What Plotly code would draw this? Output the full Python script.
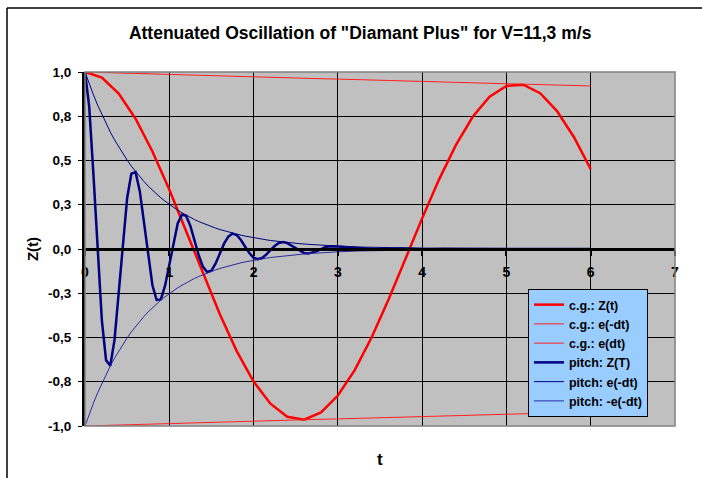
import plotly.graph_objects as go

# ---- data ----
t_cg = [0.0, 0.2, 0.4, 0.6, 0.8, 1.0, 1.2, 1.4, 1.6, 1.8, 2.0, 2.2, 2.4, 2.6, 2.8, 3.0,
        3.2, 3.4, 3.6, 3.8, 4.0, 4.2, 4.4, 4.6, 4.8, 5.0, 5.2, 5.4, 5.6, 5.8, 6.0]
cg_z = [1.000, 0.968, 0.878, 0.736, 0.551, 0.336, 0.100, -0.140, -0.369, -0.577, -0.749,
        -0.874, -0.948, -0.964, -0.923, -0.828, -0.684, -0.500, -0.287, -0.058, 0.173,
        0.392, 0.587, 0.747, 0.860, 0.921, 0.928, 0.880, 0.779, 0.633, 0.451]
cg_env_pos = [1.000, 0.997, 0.995, 0.992, 0.989, 0.986, 0.984, 0.981, 0.978, 0.976, 0.973,
              0.970, 0.968, 0.965, 0.962, 0.960, 0.957, 0.955, 0.952, 0.949, 0.947,
              0.944, 0.942, 0.939, 0.936, 0.934, 0.931, 0.929, 0.926, 0.924, 0.921]
cg_env_neg = [-1.000, -0.997, -0.995, -0.992, -0.989, -0.986, -0.984, -0.981, -0.978, -0.976, -0.973,
              -0.970, -0.968, -0.965, -0.962, -0.960, -0.957, -0.955, -0.952, -0.949, -0.947,
              -0.944, -0.942, -0.939, -0.936, -0.934, -0.931, -0.929, -0.926, -0.924, -0.921]

t_pitch = [0.0, 0.05, 0.1, 0.15, 0.2, 0.25, 0.3, 0.35, 0.4, 0.45, 0.5, 0.55, 0.6, 0.65, 0.7,
           0.75, 0.8, 0.85, 0.9, 0.95, 1.0, 1.05, 1.1, 1.15, 1.2, 1.25, 1.3, 1.35, 1.4, 1.45,
           1.5, 1.55, 1.6, 1.65, 1.7, 1.75, 1.8, 1.85, 1.9, 1.95, 2.0, 2.05, 2.1, 2.15, 2.2,
           2.25, 2.3, 2.35, 2.4, 2.45, 2.5, 2.55, 2.6, 2.65, 2.7, 2.75, 2.8, 2.85, 2.9, 2.95,
           3.0, 3.25, 3.5, 3.75, 4.0, 4.25, 4.5, 4.75, 5.0, 5.25, 5.5, 5.75, 6.0]
pitch_z = [1.000, 0.804, 0.422, -0.022, -0.403, -0.628, -0.660, -0.514, -0.252, 0.043, 0.288,
           0.426, 0.434, 0.327, 0.148, -0.047, -0.205, -0.288, -0.285, -0.207, -0.086,
           0.044, 0.144, 0.194, 0.187, 0.131, 0.048, -0.037, -0.101, -0.130, -0.122,
           -0.082, -0.026, 0.030, 0.070, 0.087, 0.079, 0.051, 0.013, -0.023, -0.049,
           -0.058, -0.051, -0.032, -0.006, 0.017, 0.034, 0.039, 0.033, 0.019, 0.002,
           -0.013, -0.023, -0.026, -0.021, -0.012, -0.001, 0.010, 0.016, 0.017, 0.014,
           0.005, -0.004, 0.003, -0.002, 0.001, 0.000, 0.000, 0.000, 0.000, 0.000, 0.000, 0.000]
pitch_env_pos = [1.000, 0.933, 0.871, 0.813, 0.759, 0.708, 0.661, 0.617, 0.576, 0.537, 0.502,
                 0.468, 0.437, 0.408, 0.381, 0.355, 0.332, 0.309, 0.289, 0.270, 0.252,
                 0.235, 0.219, 0.205, 0.191, 0.178, 0.166, 0.155, 0.145, 0.135, 0.126,
                 0.118, 0.110, 0.103, 0.096, 0.089, 0.083, 0.078, 0.073, 0.068, 0.063,
                 0.059, 0.055, 0.052, 0.048, 0.045, 0.042, 0.039, 0.036, 0.034, 0.032,
                 0.030, 0.028, 0.026, 0.024, 0.023, 0.021, 0.020, 0.018, 0.017, 0.016,
                 0.011, 0.008, 0.006, 0.004, 0.003, 0.002, 0.001, 0.001, 0.001, 0.000, 0.000, 0.000]
pitch_env_neg = [-1.000, -0.933, -0.871, -0.813, -0.759, -0.708, -0.661, -0.617, -0.576, -0.537, -0.502,
                 -0.468, -0.437, -0.408, -0.381, -0.355, -0.332, -0.309, -0.289, -0.270, -0.252,
                 -0.235, -0.219, -0.205, -0.191, -0.178, -0.166, -0.155, -0.145, -0.135, -0.126,
                 -0.118, -0.110, -0.103, -0.096, -0.089, -0.083, -0.078, -0.073, -0.068, -0.063,
                 -0.059, -0.055, -0.052, -0.048, -0.045, -0.042, -0.039, -0.036, -0.034, -0.032,
                 -0.030, -0.028, -0.026, -0.024, -0.023, -0.021, -0.020, -0.018, -0.017, -0.016,
                 -0.011, -0.008, -0.006, -0.004, -0.003, -0.002, -0.001, -0.001, -0.001, 0.000, 0.000, 0.000]

y_tickvals = [1.0, 0.75, 0.5, 0.25, 0.0, -0.25, -0.5, -0.75, -1.0]
y_ticktext = ["1,0", "0,8", "0,5", "0,3", "0,0", "-0,3", "-0,5", "-0,8", "-1,0"]
x_tickvals = [0, 1, 2, 3, 4, 5, 6, 7]

FONT = "Liberation Sans"

fig = go.Figure()
fig.add_trace(go.Scatter(x=t_cg, y=cg_z, mode="lines", name="c.g.: Z(t)",
                         line=dict(color="#FF0000", width=2.5)))
fig.add_trace(go.Scatter(x=t_cg, y=cg_env_pos, mode="lines", name="c.g.: e(-dt)",
                         line=dict(color="#FF2020", width=1)))
fig.add_trace(go.Scatter(x=t_cg, y=cg_env_neg, mode="lines", name="c.g.: e(dt)",
                         line=dict(color="#FF2020", width=1)))
fig.add_trace(go.Scatter(x=t_pitch, y=pitch_z, mode="lines", name="pitch: Z(T)",
                         line=dict(color="#000080", width=2.5)))
fig.add_trace(go.Scatter(x=t_pitch, y=pitch_env_pos, mode="lines", name="pitch: e(-dt)",
                         line=dict(color="#000080", width=1)))
fig.add_trace(go.Scatter(x=t_pitch, y=pitch_env_neg, mode="lines", name="pitch: -e(-dt)",
                         line=dict(color="#2A2AA0", width=1)))

fig.update_layout(
    width=702, height=478,
    margin=dict(l=85, r=27, t=72, b=52),
    paper_bgcolor="white",
    plot_bgcolor="#C0C0C0",
    font=dict(family=FONT, color="black", size=13),
    title=dict(text="Attenuated Oscillation of \"Diamant Plus\" for V=11,3 m/s",
               x=0.513, xanchor="center", y=0.931, yanchor="middle", xref="container", yref="container",
               font=dict(family=FONT, size=17.5, weight="bold", color="black")),
    showlegend=True,
    legend=dict(x=0.7508, y=0.387, xanchor="left", yanchor="top",
                bgcolor="#99CCFF", bordercolor="black", borderwidth=1,
                font=dict(family=FONT, size=12.5, weight="bold", color="black"),
                itemwidth=30, tracegroupgap=0),
    xaxis=dict(range=[0, 7], tickvals=x_tickvals, showgrid=True, gridcolor="black", gridwidth=1,
               zeroline=False, showline=True, linecolor="black", linewidth=3,
               anchor="free", position=0.5, ticks="outside", ticklen=5, tickwidth=2, tickcolor="black",
               ticklabelstandoff=4,
               tickfont=dict(family=FONT, size=14, weight="bold", color="black")),
    yaxis=dict(range=[-1, 1], tickvals=y_tickvals, ticktext=y_ticktext, showgrid=True,
               gridcolor="black", gridwidth=1, zeroline=True, zerolinecolor="black", zerolinewidth=3,
               showline=True, linecolor="black", linewidth=3, ticks="outside", ticklen=4,
               tickcolor="black", tickwidth=1, ticklabelstandoff=4,
               tickfont=dict(family=FONT, size=13.5, weight="bold", color="black"),
               title=dict(text="Z(t)", standoff=6,
                          font=dict(family=FONT, size=15, weight="bold", color="black"))),
)

# plot area border
fig.add_shape(type="rect", xref="paper", yref="paper", x0=0, x1=1, y0=0, y1=1,
              line=dict(color="#808080", width=1.5), layer="above")
# outer chart frame (left + top edges)
fig.add_shape(type="line", xref="paper", yref="paper", x0=-0.1322, x1=-0.1322, y0=-0.2, y1=1.1808,
              line=dict(color="black", width=1.5))
fig.add_shape(type="line", xref="paper", yref="paper", x0=-0.1322, x1=1.1, y0=1.1808, y1=1.1808,
              line=dict(color="black", width=1.5))

# x axis title
fig.add_annotation(text="t", xref="paper", yref="paper", x=0.5, y=-0.094, xanchor="center",
                   yanchor="middle", showarrow=False,
                   font=dict(family=FONT, size=17, weight="bold", color="black"))

fig.write_html("out.html", config={"displayModeBar": False},
               post_script="document.body.style.margin='0';")
